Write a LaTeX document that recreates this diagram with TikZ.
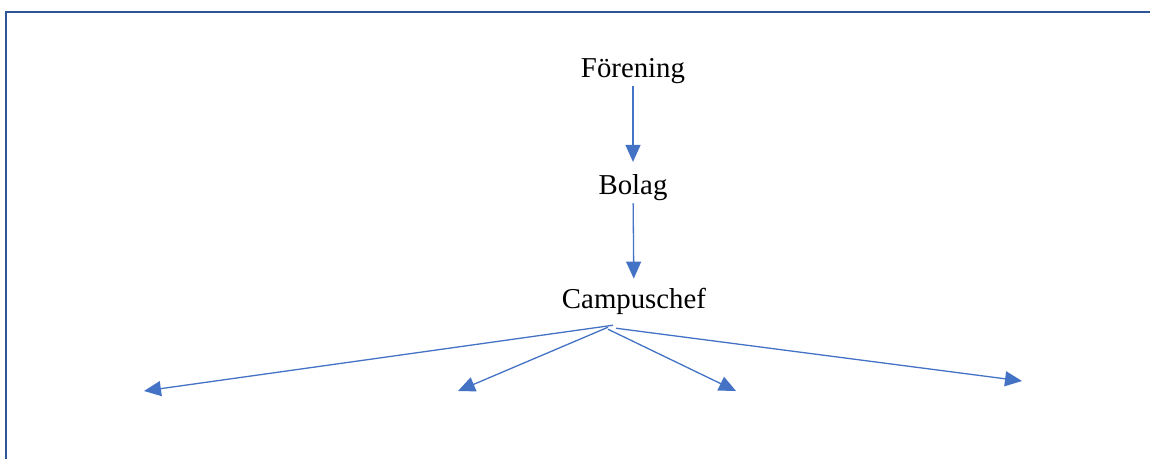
\documentclass[tikz,border=0pt]{standalone}
\usepackage{fontspec}
\setmainfont{Liberation Serif}
\usetikzlibrary{arrows.meta,positioning,calc}
\definecolor{framecol}{HTML}{2F5597}
\definecolor{arrowcol}{HTML}{4472C4}

\tikzset{
  lbl/.style={inner sep=1pt,font=\fontsize{16.4}{20}\selectfont},
  arr/.style={arrowcol,line width=.74pt,-{Triangle[length=.34cm,width=.3cm]}}
}

\begin{document}
\begin{tikzpicture}[x=.02cm,y=-.02cm]
\useasboundingbox (0,0) rectangle (1150,459);
\clip (0,0) rectangle (1150,459);
\fill[white] (0,0) rectangle (1150,459);
% ramen syns bara upptill och till vänster
\draw[framecol,line width=1.35pt] (6,470)--(6,12)--(1160,12);
\node[lbl,anchor=base] (foren) at (633,78) {Förening};
\node[lbl,anchor=base] (bolag) at (633,195) {Bolag};
\node[lbl,anchor=base] (campus) at (634,309) {Campuschef};
\draw[arr,shorten >=.22cm] (foren) -- (bolag);
\draw[arr,shorten >=.16cm] (bolag) -- (campus);
% spetsarna för de fyra pilarna
\coordinate (hub) at ($(campus.south)+(-22,10)$);
\coordinate (t1) at (144,391);
\coordinate (t2) at (458,391);
\coordinate (t3) at (736,391);
\coordinate (t4) at (1022,381);
\draw[arr] ($(hub)+(1,-2)$) -- (t1);
\draw[arr] ($(hub)+(-4,0)$) -- (t2);
\draw[arr] ($(hub)+(-4,2)$) -- (t3);
\draw[arr] ($(hub)+(4,1)$) -- (t4);
\end{tikzpicture}
\end{document}
